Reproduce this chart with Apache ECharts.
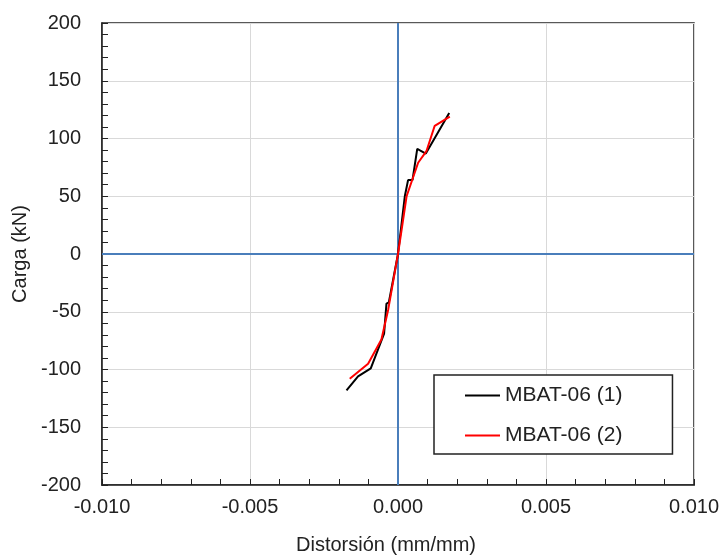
<!DOCTYPE html>
<html>
<head>
<meta charset="utf-8">
<script src="https://cdn.jsdelivr.net/npm/echarts@6/dist/echarts.min.js"></script>
<style>
  html, body { margin: 0; padding: 0; background: #fff; }
  #chart { width: 728px; height: 560px; }
</style>
</head>
<body>
<div id="chart"></div>
<script>
// Load-distortion curves for the two MBAT-06 tests
const seriesNames = ['MBAT-06 (1)', 'MBAT-06 (2)'];

const distortion1 = [-0.00174, -0.00135, -0.00092, -0.00047, -0.00039, -0.00031, 0, 0.00023, 0.00034, 0.00049, 0.00065, 0.00094, 0.00173];
const load1       = [-118, -106, -99, -69, -43, -42, 0, 50, 64, 64, 91, 87, 122];

const distortion2 = [-0.00163, -0.00101, -0.00056, -0.00033, 0, 0.00029, 0.00068, 0.00096, 0.00124, 0.00175];
const load2       = [-108, -95, -74, -48, 0, 50, 79, 89, 111, 119];

const xTicks = [-0.010, -0.005, 0.000, 0.005, 0.010];
const yTicks = [-200, -150, -100, -50, 0, 50, 100, 150, 200];

const pairs = (xs, ys) => xs.map((x, i) => [x, ys[i]]);

const FONT = 'Liberation Sans, Arial, sans-serif';
const TEXT = '#222';

const chart = echarts.init(document.getElementById('chart'), null, { renderer: 'canvas' });

chart.setOption({
  backgroundColor: '#fff',
  animation: false,
  textStyle: { fontFamily: FONT, color: TEXT },
  grid: {
    left: 102, top: 23, right: 34, bottom: 75,
    show: true, borderColor: '#222', borderWidth: 1.5, backgroundColor: 'transparent'
  },
  legend: {
    orient: 'vertical',
    left: 434, top: 375,
    backgroundColor: '#fff',
    borderColor: '#222', borderWidth: 1.5, borderRadius: 0,
    padding: [10, 50, 8, 31],
    itemGap: 19,
    itemWidth: 35, itemHeight: 2,
    icon: 'rect',
    textStyle: { fontFamily: FONT, fontSize: 21, color: TEXT },
    data: seriesNames
  },
  xAxis: {
    type: 'value',
    min: xTicks[0], max: xTicks[xTicks.length - 1], interval: 0.005,
    name: 'Distorsión (mm/mm)',
    nameLocation: 'middle', nameGap: 50,
    nameTextStyle: { fontFamily: FONT, fontSize: 20, color: TEXT, padding: [0, 24, 0, 0] },
    axisLine: { show: true, onZero: false, lineStyle: { color: '#222', width: 1.5 } },
    axisTick: { show: true, inside: true, length: 6, lineStyle: { color: '#222', width: 1 } },
    minorTick: { show: true, splitNumber: 5, length: 6, lineStyle: { color: '#222', width: 1 } },
    axisLabel: { fontFamily: FONT, fontSize: 20, color: TEXT, margin: 12,
                 formatter: v => v.toFixed(3) },
    splitLine: { show: true, lineStyle: { color: '#d9d9d9', width: 1 } }
  },
  yAxis: {
    type: 'value',
    min: yTicks[0], max: yTicks[yTicks.length - 1], interval: 50,
    name: 'Carga (kN)',
    nameLocation: 'middle', nameGap: 69,
    nameTextStyle: { fontFamily: FONT, fontSize: 20, color: TEXT },
    axisLine: { show: true, onZero: false, lineStyle: { color: '#222', width: 1.5 } },
    axisTick: { show: true, inside: true, length: 6, lineStyle: { color: '#222', width: 1 } },
    minorTick: { show: true, splitNumber: 5, length: 6, lineStyle: { color: '#222', width: 1 } },
    axisLabel: { fontFamily: FONT, fontSize: 20, color: TEXT, margin: 21 },
    splitLine: { show: true, lineStyle: { color: '#d9d9d9', width: 1 } }
  },
  series: [
    {
      name: seriesNames[0],
      type: 'line',
      data: pairs(distortion1, load1),
      showSymbol: false,
      color: '#000',
      lineStyle: { color: '#000', width: 2 },
      z: 3,
      markLine: {
        silent: true,
        symbol: 'none',
        label: { show: false },
        lineStyle: { color: '#4a7ebb', width: 2, type: 'solid' },
        data: [{ xAxis: 0 }, { yAxis: 0 }],
        z: 2
      }
    },
    {
      name: seriesNames[1],
      type: 'line',
      data: pairs(distortion2, load2),
      showSymbol: false,
      color: '#ff0000',
      lineStyle: { color: '#ff0000', width: 2 },
      z: 4
    }
  ]
});
</script>
</body>
</html>
